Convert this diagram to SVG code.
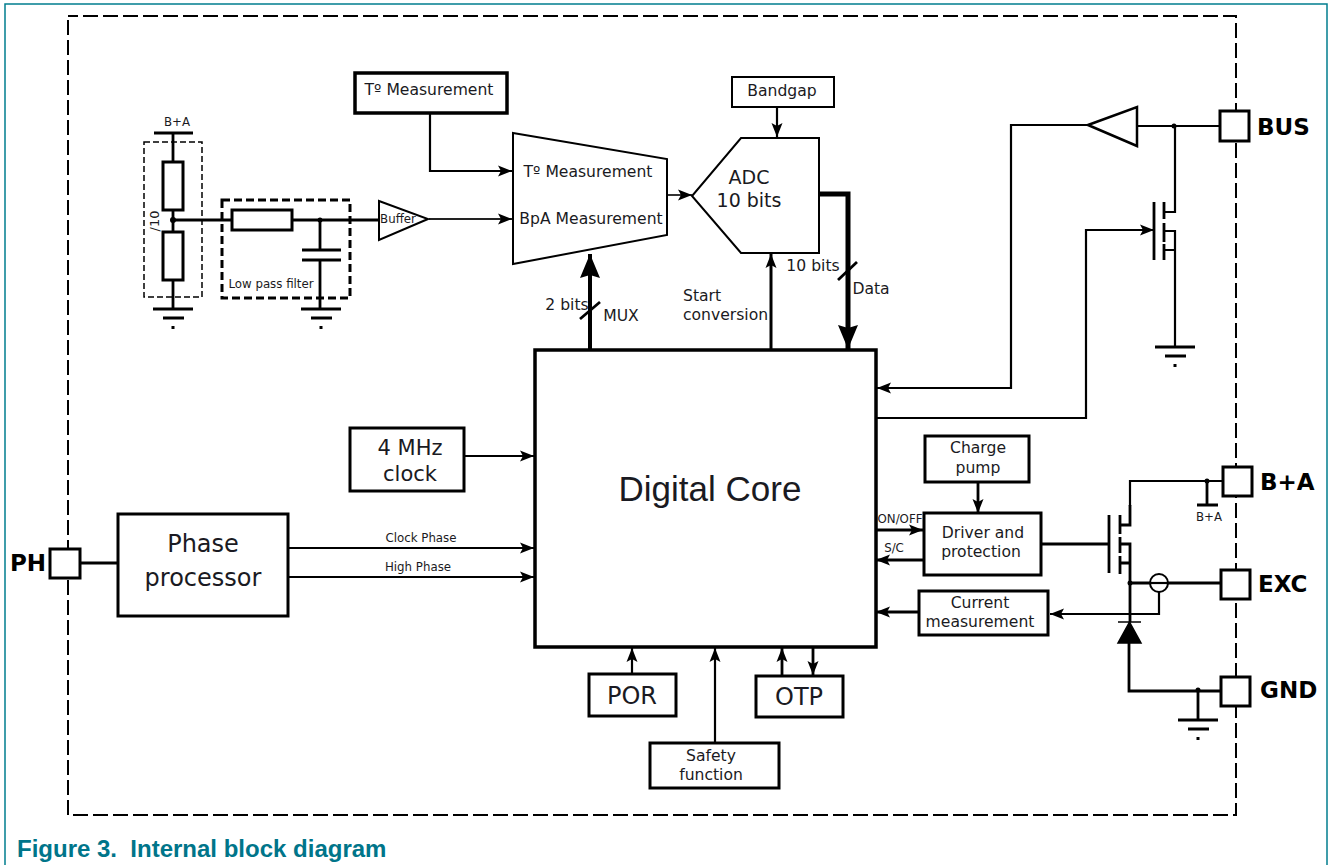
<svg xmlns="http://www.w3.org/2000/svg" width="1333" height="865" viewBox="0 0 1333 865">
<style>
text{font-family:"DejaVu Sans",sans-serif;fill:#1a1a22;text-anchor:middle}
.l{fill:none;stroke:#000;stroke-width:2.2}
.t{fill:none;stroke:#000;stroke-width:2.8}
.b{fill:#fff;stroke:#000;stroke-width:3}
.pin{fill:#fff;stroke:#000;stroke-width:3}
.pt{font-weight:bold;font-size:23px;fill:#000;text-anchor:start}
.s{font-size:15.6px}
.x{font-size:11.8px}
.g{fill:none;stroke:#000;stroke-width:2.8}
</style>
<defs>
<marker id="a" markerUnits="userSpaceOnUse" markerWidth="15" markerHeight="13" refX="14" refY="6.5" orient="auto"><path d="M0,1L14,6.5L0,12L3,6.5Z" fill="#000"/></marker>
<marker id="A" markerUnits="userSpaceOnUse" markerWidth="25" markerHeight="22" refX="24" refY="10" orient="auto"><path d="M0,0L24,10L0,20L3,10Z" fill="#000"/></marker>
<g id="gnd"><path class="g" d="M-20,0H20M-10,9H11"/><rect x="-1.5" y="17" width="3" height="3" fill="#000"/></g>
</defs>
<rect x="5" y="4" width="1322" height="880" fill="none" stroke="#007d8e" stroke-width="1.5"/>
<path d="M68,20V815H1236V16H68" fill="none" stroke="#000" stroke-width="2" stroke-dasharray="15 5"/>
<g id="connectors">
<path class="l" d="M430,113V171H512" marker-end="url(#a)"/>
<path d="M429,219H512" fill="none" stroke="#222" stroke-width="2" marker-end="url(#a)"/>
<path d="M668,195H692" fill="none" stroke="#333" stroke-width="2" marker-end="url(#a)"/>
<path class="l" d="M777,107V137" marker-end="url(#a)"/>
<path d="M590,349V254" fill="none" stroke="#000" stroke-width="4" marker-end="url(#A)"/>
<path class="t" d="M580,319L600,302M838,280L857,262"/>
<path d="M771,352V254" fill="none" stroke="#000" stroke-width="3" marker-end="url(#a)"/>
<path d="M820,194H848V349" fill="none" stroke="#000" stroke-width="5" marker-end="url(#A)"/>
<path class="l" d="M1088,125H1011V388H877" marker-end="url(#a)"/>
<path class="l" d="M875,418H1086V230H1154" marker-end="url(#a)"/>
<path class="l" d="M1138,126H1220M1175,126V212H1164M1164,231H1175V250H1164M1175,250V347"/>
<circle cx="1174" cy="126" r="2.5"/>
<path class="t" d="M1154,202V260M1164,202V219M1164,223V242M1164,244V260"/>
<use href="#gnd" x="1175" y="347"/>
<path class="l" d="M464,456H534" marker-end="url(#a)"/>
<path class="l" d="M288,548H534" marker-end="url(#a)"/>
<path class="l" d="M288,577H534" marker-end="url(#a)"/>
<path class="t" d="M81,563H118"/>
<path class="l" d="M632,673V648" marker-end="url(#a)"/>
<path class="l" d="M715,743V648" marker-end="url(#a)"/>
<path class="t" d="M782,675V648" marker-end="url(#a)"/>
<path class="t" d="M813,648V675" marker-end="url(#a)"/>
<path class="t" d="M978,482V513" marker-end="url(#a)"/>
<path class="t" d="M876,530H923" marker-end="url(#a)"/>
<path class="t" d="M924,560H876" marker-end="url(#a)"/>
<path class="t" d="M918,612H876" marker-end="url(#a)"/>
<path class="l" d="M1159,592V614H1050" marker-end="url(#a)"/>
<path class="t" d="M1041,544H1109"/>
<path class="l" d="M1223,481H1130V506"/>
<path class="t" d="M1130,505V525H1120M1120,544H1130V563H1120M1130,563V622"/>
<path class="t" d="M1109,515V573M1120,515V534M1120,537V553M1120,556V574"/>
<circle cx="1207" cy="481" r="2.5"/>
<path class="t" d="M1207,481V505M1197,505H1218"/>
<path class="t" d="M1130,583H1150M1168,583H1221M1129,640V691H1221M1198,691V720"/>
<circle cx="1130" cy="583" r="2.5"/>
<circle cx="1198" cy="690" r="2.5"/>
<circle cx="1159" cy="583" r="9" fill="#fff" stroke="#000" stroke-width="2"/>
<path class="l" d="M1150,583H1168"/>
<path d="M1118,622H1141M1129.500,622L1118,643H1141Z" fill="#000" stroke="#000" stroke-width="1.500"/>
<use href="#gnd" x="1198" y="720"/>
<path class="t" d="M154,133H193M173,133V162M173,210V232M173,280V309M173,220H232M292,220H379"/>
<circle cx="173" cy="220" r="3"/><circle cx="320" cy="220" r="2.500"/>
<path class="t" d="M320,220V250M302,250H341M302,260H341M320,260V309"/>
<use href="#gnd" x="173" y="309"/>
<use href="#gnd" x="321" y="309"/>
</g>
<g id="resistor-1"><rect x="163" y="162" width="20" height="48" class="b"/></g>
<g id="resistor-2"><rect x="163" y="232" width="20" height="48" class="b"/></g>
<g id="resistor-3"><rect x="232" y="210" width="60" height="20" class="b"/></g>
<g id="divider"><rect x="144" y="142" width="58" height="155" fill="none" stroke="#000" stroke-width="1.500" stroke-dasharray="6 3"/><text class="x" x="177" y="126">B+A</text><text transform="translate(159,221) rotate(-90)" font-size="13">/10</text></g>
<g id="filter"><rect x="222" y="200" width="128" height="98" fill="none" stroke="#000" stroke-width="3" stroke-dasharray="8 4"/><text class="x" x="271" y="288">Low pass filter</text></g>
<g id="buffer"><path d="M379,201L428,219L379,240Z" fill="#fff" stroke="#000" stroke-width="2"/><text class="x" x="398" y="223">Buffer</text></g>
<g id="bus-receiver"><path d="M1088,125L1137,107V146Z" fill="#fff" stroke="#000" stroke-width="2.500"/></g>
<g id="t-measure"><rect x="355" y="73" width="152" height="40" fill="#fff" stroke="#000" stroke-width="3.500"/><text class="s" x="429" y="95">Tº Measurement</text></g>
<g id="mux"><path d="M513,133L667,159V235L513,264Z" fill="#fff" stroke="#000" stroke-width="2"/><text class="s" x="588" y="177">Tº Measurement</text><text class="s" x="591" y="224">BpA Measurement</text></g>
<g id="adc"><path d="M741,138H819V253H741L692,196Z" fill="#fff" stroke="#000" stroke-width="2"/><text font-size="19" x="749" y="184">ADC</text><text font-size="19" x="749" y="207">10 bits</text></g>
<g id="bandgap"><rect x="732" y="77" width="102" height="30" fill="#fff" stroke="#000" stroke-width="2"/><text class="s" x="782" y="96">Bandgap</text></g>
<g id="core"><rect x="535" y="350" width="341" height="297" fill="#fff" stroke="#000" stroke-width="3.500"/><text font-size="35" x="710" y="501" style="font-family:'Liberation Sans',sans-serif">Digital Core</text></g>
<g id="clock"><rect x="350" y="428" width="114" height="63" fill="#fff" stroke="#000" stroke-width="3"/><text font-size="21" x="410" y="455">4 MHz</text><text font-size="21" x="410" y="481">clock</text></g>
<g id="phase"><rect x="118" y="514" width="170" height="102" fill="#fff" stroke="#000" stroke-width="3"/><text font-size="24" x="203" y="552">Phase</text><text font-size="24" x="203" y="586">processor</text></g>
<g id="por"><rect x="589" y="674" width="87" height="42" fill="#fff" stroke="#000" stroke-width="3"/><text font-size="24" x="632" y="704">POR</text></g>
<g id="otp"><rect x="756" y="676" width="87" height="41" fill="#fff" stroke="#000" stroke-width="3"/><text font-size="24" x="799" y="705">OTP</text></g>
<g id="safety"><rect x="650" y="743" width="129" height="45" fill="#fff" stroke="#000" stroke-width="3"/><text class="s" x="711" y="761">Safety</text><text class="s" x="711" y="780">function</text></g>
<g id="charge"><rect x="925" y="436" width="104" height="46" fill="#fff" stroke="#000" stroke-width="3"/><text class="s" x="978" y="453">Charge</text><text class="s" x="978" y="473">pump</text></g>
<g id="driver"><rect x="924" y="513" width="117" height="62" fill="#fff" stroke="#000" stroke-width="3"/><text class="s" x="983" y="538">Driver and</text><text class="s" x="981" y="557">protection</text></g>
<g id="current"><rect x="919" y="591" width="129" height="44" fill="#fff" stroke="#000" stroke-width="3"/><text class="s" x="980" y="608">Current</text><text class="s" x="980" y="627">measurement</text></g>
<g id="pin-bus"><rect x="1220" y="111" width="29" height="30" class="pin"/><text class="pt" x="1257" y="135">BUS</text></g>
<g id="pin-ba"><rect x="1223" y="467" width="29" height="29" class="pin"/><text class="pt" x="1260" y="490">B+A</text></g>
<g id="pin-exc"><rect x="1221" y="570" width="29" height="29" class="pin"/><text class="pt" x="1258" y="592">EXC</text></g>
<g id="pin-gnd"><rect x="1221" y="677" width="29" height="29" class="pin"/><text class="pt" x="1260" y="698">GND</text></g>
<g id="pin-ph"><rect x="50" y="549" width="30" height="29" class="pin"/><text class="pt" x="10" y="571">PH</text></g>
<g id="labels">
<text class="s" x="567" y="310">2 bits</text>
<text class="s" x="621" y="321">MUX</text>
<text class="s" x="683" y="301" style="text-anchor:start">Start</text>
<text class="s" x="683" y="320" style="text-anchor:start">conversion</text>
<text class="s" x="813" y="271">10 bits</text>
<text class="s" x="871" y="294">Data</text>
<text class="x" x="421" y="542">Clock Phase</text>
<text class="x" x="418" y="571">High Phase</text>
<text class="x" x="900" y="523">ON/OFF</text>
<text class="x" x="894" y="552">S/C</text>
<text class="x" x="1209" y="521">B+A</text>
<text x="17" y="857" font-size="24" font-weight="bold" style="fill:#00758a;text-anchor:start;font-family:'Liberation Sans',sans-serif;white-space:pre">Figure 3.  Internal block diagram</text>
</g>
</svg>
